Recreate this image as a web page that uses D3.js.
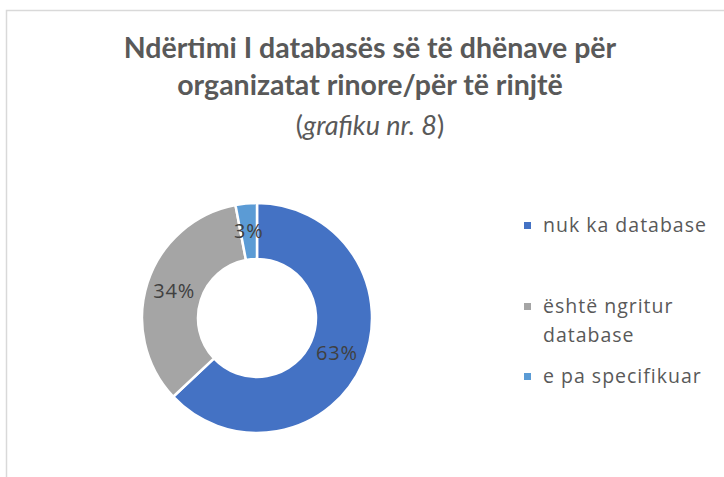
<!DOCTYPE html>
<html>
<head>
<meta charset="utf-8">
<script src="https://cdn.jsdelivr.net/npm/d3@7"></script>
<style>
  body { margin: 0; background: #fff; }
  svg { display: block; }
</style>
</head>
<body>
<svg id="donut-chart" width="724" height="477"></svg>
<script>
// chart data
const categories = ['nuk ka database', 'është ngritur database', 'e pa specifikuar'];
const values = [63, 34, 3];
const colors = ['#4472C4', '#A5A5A5', '#5B9BD5'];
const legendLines = [['nuk ka database'], ['është ngritur', 'database'], ['e pa specifikuar']];
const titleLines = ['Ndërtimi I databasës së të dhënave për', 'organizatat rinore/për të rinjtë'];

const svg = d3.select('#donut-chart');
const width = 724;
const height = 477;

// chart frame
svg.append('path')
  .attr('d', `M6.5,${height} L6.5,10.5 L${width},10.5`)
  .attr('fill', 'none')
  .attr('stroke', '#d9d9d9')
  .attr('stroke-width', 1.5);

// title
const title = svg.append('g')
  .attr('font-family', 'Lato, "Open Sans", sans-serif')
  .attr('fill', '#595959')
  .attr('text-anchor', 'middle');

title.selectAll('text.t')
  .data(titleLines)
  .join('text')
  .attr('class', 't')
  .attr('x', 370)
  .attr('y', (d, i) => 58 + i * 37)
  .attr('font-size', 28.5)
  .attr('font-weight', 'bold')
  .text(d => d);

const sub = title.append('text')
  .attr('x', 370)
  .attr('y', 135)
  .attr('font-size', 27);
sub.append('tspan').text('(');
sub.append('tspan').attr('font-style', 'italic').text('grafiku nr. 8');
sub.append('tspan').text(')');

// donut
const cx = 257, cy = 318;
const outerR = 115, innerR = 59;

const pie = d3.pie().sort(null).value(d => d);
const arc = d3.arc().innerRadius(innerR).outerRadius(outerR);
const arcs = pie(values);

const g = svg.append('g').attr('transform', `translate(${cx},${cy})`);

g.selectAll('path')
  .data(arcs)
  .join('path')
  .attr('d', arc)
  .attr('fill', (d, i) => colors[i])
  .attr('stroke', '#fff')
  .attr('stroke-width', 2.5);

g.selectAll('text')
  .data(arcs)
  .join('text')
  .attr('transform', d => `translate(${arc.centroid(d)})`)
  .attr('text-anchor', 'middle')
  .attr('dy', '0.35em')
  .attr('font-family', '"Open Sans", sans-serif')
  .attr('font-size', 20)
  .attr('letter-spacing', 0.8)
  .attr('fill', '#404040')
  .text(d => d.data + '%');

// legend
const legendY = [232, 313, 383];
const legend = svg.append('g')
  .attr('font-family', '"Open Sans", sans-serif')
  .attr('font-size', 19.5)
  .attr('letter-spacing', 1)
  .attr('fill', '#595959');

const items = legend.selectAll('g')
  .data(categories)
  .join('g')
  .attr('transform', (d, i) => `translate(0,${legendY[i]})`);

items.append('rect')
  .attr('x', 524)
  .attr('y', -10)
  .attr('width', 7)
  .attr('height', 7)
  .attr('fill', (d, i) => colors[i]);

items.append('text')
  .selectAll('tspan')
  .data((d, i) => legendLines[i])
  .join('tspan')
  .attr('x', 543)
  .attr('y', (d, j) => j * 29)
  .text(d => d);
</script>
</body>
</html>
